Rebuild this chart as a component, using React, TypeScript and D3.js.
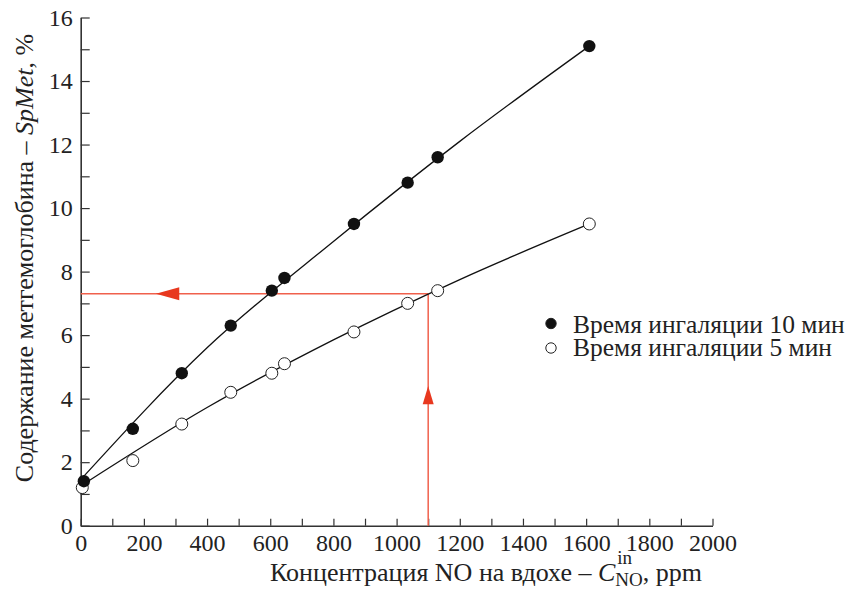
import React, { useEffect, useRef } from "react";
import * as d3 from "d3";

// ---- data ----
const conc10 = [10, 165, 320, 475, 605, 645, 865, 1035, 1130, 1610];
const met10 = [1.4, 3.05, 4.8, 6.3, 7.4, 7.8, 9.5, 10.8, 11.6, 15.1];
const conc5 = [5, 165, 320, 475, 605, 645, 865, 1035, 1130, 1610];
const met5 = [1.2, 2.05, 3.2, 4.2, 4.8, 5.1, 6.1, 7.0, 7.4, 9.5];
// fitted curves
const fitX = [0, 400, 800, 1200, 1610];
const fit10 = [1.45, 5.6, 8.95, 12.1, 15.1];
const fit5 = [1.25, 3.72, 5.85, 7.75, 9.5];
const guideX = 1100;
const guideY = 7.3;
const xTickValues = d3.range(0, 2001, 100);
const yTickValues = d3.range(0, 17, 1);
const legendLabels = ["Время ингаляции 10 мин", "Время ингаляции 5 мин"];

const W = 858;
const H = 589;
const FONT = "'Liberation Serif', 'Times New Roman', serif";

export default function App() {
  const ref = useRef<SVGSVGElement | null>(null);

  useEffect(() => {
    const svg = d3.select(ref.current);
    svg.selectAll("*").remove();

    const x = d3.scaleLinear().domain([0, 2000]).range([80.7, 712.5]);
    const y = d3.scaleLinear().domain([0, 16]).range([525.7, 17.5]);

    const axisColor = "#333";
    // X axis
    const gx = svg
      .append("g")
      .attr("transform", `translate(0,${y(0)})`)
      .call(
        d3
          .axisBottom(x)
          .tickValues(xTickValues)
          .tickSizeInner(-7)
          .tickSizeOuter(0)
          .tickPadding(8)
          .tickFormat((d: any) => (d % 200 === 0 ? String(d) : ""))
      );
    gx.select(".domain").attr("stroke", axisColor).attr("stroke-width", 1.6);
    gx.selectAll(".tick line").attr("stroke", axisColor).attr("stroke-width", 1.2);
    gx.selectAll(".tick text")
      .style("font-family", FONT)
      .style("font-size", "24px")
      .attr("fill", "#222");

    // Y axis
    const gy = svg
      .append("g")
      .attr("transform", `translate(${x(0)},0)`)
      .call(
        d3
          .axisLeft(y)
          .tickValues(yTickValues)
          .tickSizeInner(-9)
          .tickSizeOuter(0)
          .tickPadding(8)
          .tickFormat((d: any) => (d % 2 === 0 ? String(d) : ""))
      );
    gy.select(".domain").attr("stroke", axisColor).attr("stroke-width", 1.6);
    gy.selectAll(".tick line").attr("stroke", axisColor).attr("stroke-width", 1.2);
    gy.selectAll(".tick text")
      .style("font-family", FONT)
      .style("font-size", "24px")
      .attr("fill", "#222");

    // Red guide lines
    const red = "#f0604c";
    const redHead = "#e8381f";
    svg
      .append("line")
      .attr("x1", x(0))
      .attr("x2", x(guideX))
      .attr("y1", y(guideY))
      .attr("y2", y(guideY))
      .attr("stroke", red)
      .attr("stroke-width", 1.5);
    svg
      .append("line")
      .attr("x1", x(guideX))
      .attr("x2", x(guideX))
      .attr("y1", y(0))
      .attr("y2", y(guideY))
      .attr("stroke", red)
      .attr("stroke-width", 1.5);
    const lTip = x(238);
    const lBase = x(312);
    const gyy = y(guideY);
    svg
      .append("path")
      .attr("d", `M${lTip},${gyy} L${lBase},${gyy - 6.5} L${lBase},${gyy + 6.5} Z`)
      .attr("fill", redHead);
    const uTip = y(4.4);
    const uBase = y(3.82);
    const gxx = x(guideX);
    svg
      .append("path")
      .attr("d", `M${gxx},${uTip} L${gxx - 5.5},${uBase} L${gxx + 5.5},${uBase} Z`)
      .attr("fill", redHead);

    // Fit curves
    const line = d3
      .line<[number, number]>()
      .x((d) => x(d[0]))
      .y((d) => y(d[1]))
      .curve(d3.curveMonotoneX);
    const pts10 = fitX.map((c, i) => [c, fit10[i]] as [number, number]);
    const pts5 = fitX.map((c, i) => [c, fit5[i]] as [number, number]);
    svg.append("path").attr("d", line(pts10)).attr("fill", "none").attr("stroke", "#111").attr("stroke-width", 1.3);
    svg.append("path").attr("d", line(pts5)).attr("fill", "none").attr("stroke", "#111").attr("stroke-width", 1.3);

    // Markers
    svg
      .append("g")
      .selectAll("circle")
      .data(conc5.map((c, i) => [c, met5[i]]))
      .join("circle")
      .attr("cx", (d) => x(d[0]))
      .attr("cy", (d) => y(d[1]))
      .attr("r", 6)
      .attr("fill", "#fff")
      .attr("stroke", "#222")
      .attr("stroke-width", 1);
    svg
      .append("g")
      .selectAll("circle")
      .data(conc10.map((c, i) => [c, met10[i]]))
      .join("circle")
      .attr("cx", (d) => x(d[0]))
      .attr("cy", (d) => y(d[1]))
      .attr("r", 6.2)
      .attr("fill", "#111");

    // Legend
    const lg = svg.append("g");
    legendLabels.forEach((t, i) => {
      lg.append("circle")
        .attr("cx", 551)
        .attr("cy", 323.5 + i * 24.5)
        .attr("r", 5.2)
        .attr("fill", i === 0 ? "#111" : "#fff")
        .attr("stroke", "#222")
        .attr("stroke-width", 1);
      lg.append("text")
        .attr("x", 573)
        .attr("y", 332.5 + i * 23.5)
        .style("font-family", FONT)
        .style("font-size", "25.5px")
        .attr("fill", "#222")
        .text(t);
    });

    // Y label
    const yl = svg
      .append("text")
      .attr("transform", `translate(33,258) rotate(-90)`)
      .attr("text-anchor", "middle")
      .style("font-family", FONT)
      .style("font-size", "26px")
      .attr("fill", "#222");
    yl.append("tspan").text("Содержание метгемоглобина – ");
    yl.append("tspan").attr("font-style", "italic").text("SpMet");
    yl.append("tspan").text(", %");

    // X label
    const xl = svg
      .append("text")
      .attr("x", 270)
      .attr("y", 581)
      .style("font-family", FONT)
      .style("font-size", "26px")
      .attr("fill", "#222");
    xl.append("tspan").text("Концентрация NO на вдохе – ");
    xl.append("tspan").attr("font-style", "italic").text("C");
    const sub = xl.append("tspan").style("font-size", "19px").attr("dy", 5).text("NO");
    xl.append("tspan").attr("dy", -5).text(", ppm");
    const subNode = sub.node() as any;
    let sx = 632;
    try {
      const bb = subNode.getBBox();
      sx = bb.x + 2;
    } catch (e) {}
    svg
      .append("text")
      .attr("x", sx)
      .attr("y", 564)
      .style("font-family", FONT)
      .style("font-size", "19px")
      .attr("fill", "#222")
      .text("in");
  }, []);

  return (
    <svg
      ref={ref}
      width={W}
      height={H}
      style={{ position: "absolute", left: 0, top: 0, background: "#fff" }}
    />
  );
}
